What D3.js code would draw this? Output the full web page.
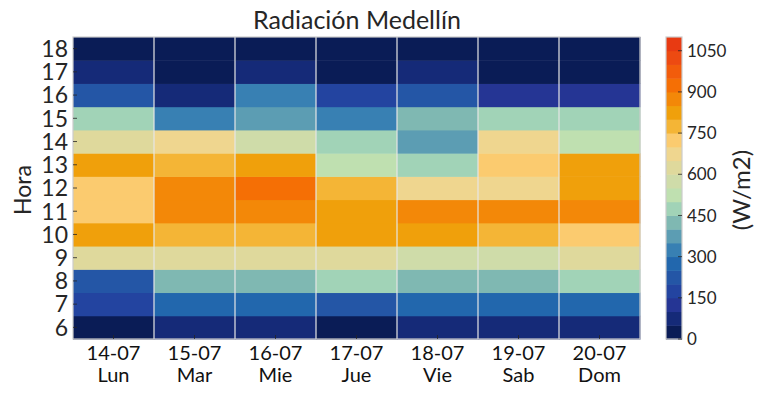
<!DOCTYPE html>
<html><head><meta charset="utf-8">
<script src="https://cdn.jsdelivr.net/npm/d3@7"></script>
<style>body{margin:0;background:#fff}svg{display:block}</style>
</head><body>
<svg id="c" width="767" height="395"></svg>
<script>
const days = ["14-07","15-07","16-07","17-07","18-07","19-07","20-07"];
const dayNames = ["Lun","Mar","Mie","Jue","Vie","Sab","Dom"];
const hours = [6,7,8,9,10,11,12,13,14,15,16,17,18];
// radiation (W/m2) per day, hours 6..18
const rad1407 = [25,175,225,625,825,725,725,825,625,475,225,75,25];
const rad1507 = [75,275,425,625,775,875,875,775,675,325,75,25,25];
const rad1607 = [75,275,425,625,775,875,925,825,575,375,325,75,25];
const rad1707 = [25,225,475,625,825,825,775,525,475,325,175,25,25];
const rad1807 = [75,275,425,575,825,875,675,475,375,425,225,75,25];
const rad1907 = [75,275,425,575,775,875,675,725,675,475,125,25,25];
const rad2007 = [75,275,475,625,725,875,825,825,525,475,125,25,25];
const series = [rad1407,rad1507,rad1607,rad1707,rad1807,rad1907,rad2007];
const levels = d3.range(0,1101,50);
const cbTicks = [0,150,300,450,600,750,900,1050];
const palette = ["#0a1c56","#152a78","#253594","#2344a0","#2456a6","#2267ad","#3880b3","#5c9db3","#7fb8b2","#a1d3b7","#bfe0b0","#cfdca9","#dfd99c","#efd68f","#fbcb6f","#f4b536","#f0a00b","#f38808","#f56f05","#f25c0b","#ed4a11","#e83a12"];

const svg = d3.select("#c");
const L=73,R=640,T=37,B=339;
const x = d3.scaleBand().domain(days).range([L,R]);
const y = d3.scaleBand().domain(hours).range([B,T]);
const color = d3.scaleThreshold().domain(levels.slice(1,-1)).range(palette);
const txt = "#262626";

const cells=[];
series.forEach((s,i)=>s.forEach((v,j)=>cells.push({d:days[i],h:hours[j],v})));
svg.append("g").selectAll("rect").data(cells).join("rect")
  .attr("x",d=>x(d.d)).attr("y",d=>y(d.h))
  .attr("width",x.bandwidth()+0.5).attr("height",y.bandwidth()+0.5)
  .attr("fill",d=>color(d.v));
// white separators between days
svg.append("g").selectAll("line").data(days.slice(1)).join("line")
  .attr("x1",d=>x(d)).attr("x2",d=>x(d)).attr("y1",T).attr("y2",B)
  .attr("stroke","#e6e6e6").attr("stroke-width",1.2);
svg.append("rect").attr("x",L).attr("y",T).attr("width",R-L).attr("height",B-T)
  .attr("fill","none").attr("stroke","#cccccc").attr("stroke-width",1.2);

// y axis
const gy = svg.append("g");
gy.selectAll("line").data(hours).join("line")
  .attr("x1",L).attr("x2",L+4).attr("y1",d=>y(d)+y.bandwidth()/2).attr("y2",d=>y(d)+y.bandwidth()/2)
  .attr("stroke",txt).attr("stroke-width",0.8);
gy.selectAll("text").data(hours).join("text")
  .attr("x",L-5).attr("y",d=>y(d)+y.bandwidth()/2).attr("dy","0.36em")
  .attr("text-anchor","end").attr("font-family","Lato, sans-serif").attr("font-size",23).attr("fill",txt)
  .text(d=>d);
svg.append("text").attr("transform","translate(31,190) rotate(-90)").attr("text-anchor","middle")
  .attr("font-family","Lato, sans-serif").attr("font-size",23).attr("fill",txt).text("Hora");

// x axis
const gx = svg.append("g");
gx.selectAll("line").data(days).join("line")
  .attr("x1",d=>x(d)+x.bandwidth()/2).attr("x2",d=>x(d)+x.bandwidth()/2).attr("y1",B).attr("y2",B-4)
  .attr("stroke",txt).attr("stroke-width",0.8);
const xt = gx.selectAll("text").data(days).join("text")
  .attr("x",d=>x(d)+x.bandwidth()/2).attr("text-anchor","middle")
  .attr("font-family","Lato, sans-serif").attr("font-size",20).attr("fill","#111");
xt.append("tspan").attr("x",d=>x(d)+x.bandwidth()/2).attr("y",360).text(d=>d);
xt.append("tspan").attr("x",d=>x(d)+x.bandwidth()/2).attr("y",382).text((d,i)=>dayNames[i]);

// title
svg.append("text").attr("x",357).attr("y",29).attr("text-anchor","middle")
  .attr("font-family","Lato, sans-serif").attr("font-size",25).attr("fill",txt).text("Radiación Medellín");

// colorbar
const cbx=666, cbw=16;
const cy = d3.scaleLinear().domain([0,1100]).range([B,T]);
svg.append("g").selectAll("rect").data(levels.slice(0,-1)).join("rect")
  .attr("x",cbx).attr("y",d=>cy(d+50)).attr("width",cbw).attr("height",d=>cy(d)-cy(d+50)+0.5)
  .attr("fill",d=>color(d+25));
svg.append("rect").attr("x",cbx).attr("y",T).attr("width",cbw).attr("height",B-T)
  .attr("fill","none").attr("stroke","#cccccc").attr("stroke-width",1.2);
const gc = svg.append("g");
gc.selectAll("line").data(cbTicks).join("line")
  .attr("x1",cbx+cbw-4).attr("x2",cbx+cbw).attr("y1",d=>cy(d)).attr("y2",d=>cy(d))
  .attr("stroke",txt).attr("stroke-width",0.8);
gc.selectAll("text").data(cbTicks).join("text")
  .attr("x",cbx+cbw+5).attr("y",d=>cy(d)).attr("dy","0.36em")
  .attr("font-family","Lato, sans-serif").attr("font-size",17).attr("fill",txt).text(d=>d);
svg.append("text").attr("transform","translate(750,190) rotate(-90)").attr("text-anchor","middle")
  .attr("font-family","Lato, sans-serif").attr("font-size",24).attr("fill",txt).text("(W/m2)");
</script>
</body></html>
